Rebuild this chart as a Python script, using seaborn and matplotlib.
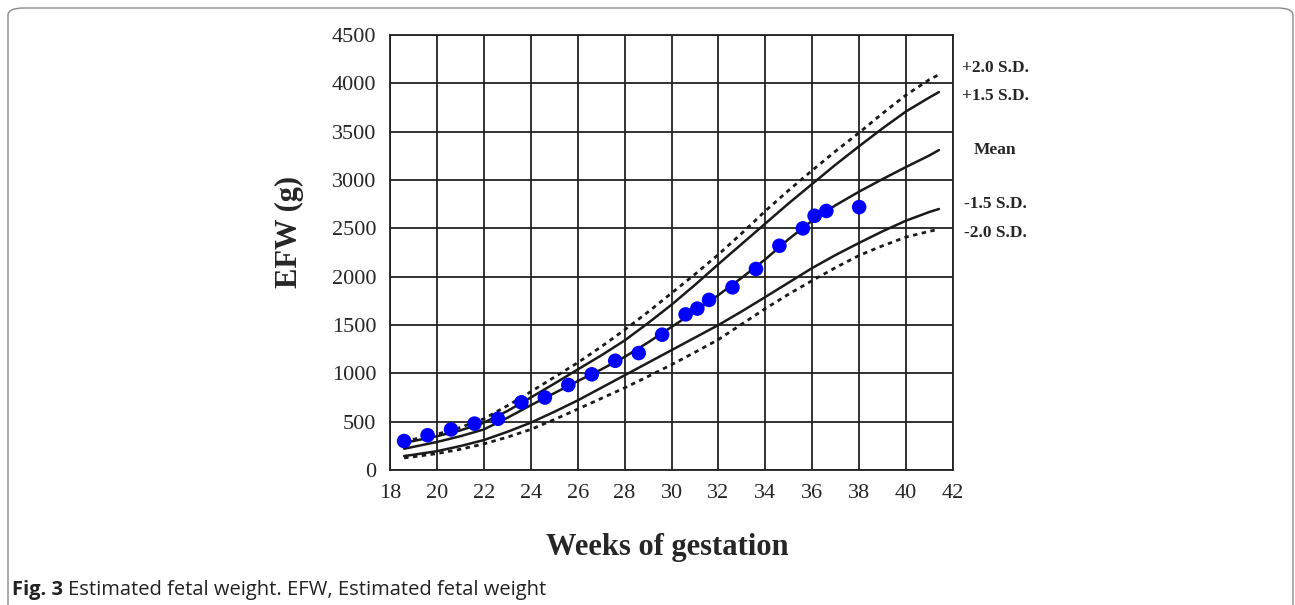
import matplotlib
matplotlib.use("Agg")
import matplotlib.pyplot as plt
import seaborn as sns
import pandas as pd
from matplotlib.patches import FancyBboxPatch

# Reference curves
weeks = [18.6, 19, 20, 21, 22, 23, 24, 25, 26, 27, 28, 29, 30,
         31, 32, 33, 34, 35, 36, 37, 38, 39, 40, 41, 41.4]
plus2_sd = [300, 318, 370, 440, 530, 665, 810, 960, 1110, 1275, 1450, 1635, 1830,
            2025, 2230, 2450, 2680, 2895, 3100, 3300, 3490, 3690, 3880, 4040, 4090]
plus15_sd = [285, 300, 350, 410, 490, 610, 750, 893, 1040, 1185, 1340, 1520, 1710,
             1915, 2130, 2340, 2550, 2760, 2960, 3160, 3350, 3535, 3710, 3855, 3910]
mean_efw = [220, 240, 290, 350, 420, 540, 670, 795, 920, 1040, 1170, 1320, 1480,
            1640, 1810, 1990, 2180, 2390, 2580, 2740, 2880, 3010, 3135, 3255, 3310]
minus15_sd = [145, 158, 195, 248, 310, 395, 490, 602, 720, 850, 980, 1110, 1240,
              1370, 1500, 1642, 1790, 1940, 2090, 2225, 2350, 2470, 2580, 2670, 2700]
minus2_sd = [125, 137, 170, 215, 270, 340, 420, 522, 630, 740, 850, 968, 1090,
             1218, 1350, 1510, 1670, 1820, 1960, 2095, 2220, 2320, 2410, 2470, 2490]

# Observed EFW points
obs_weeks = [18.6, 19.6, 20.6, 21.6, 22.6, 23.6, 24.6, 25.6, 26.6, 27.6, 28.6,
             29.6, 30.6, 31.1, 31.6, 32.6, 33.6, 34.6, 35.6, 36.1, 36.6, 38.0]
obs_efw = [300, 360, 420, 480, 530, 700, 750, 880, 990, 1130, 1210,
           1400, 1610, 1670, 1760, 1890, 2080, 2320, 2500, 2630, 2680, 2720]

curve_labels = ["+2.0 S.D.", "+1.5 S.D.", "Mean", "-1.5 S.D.", "-2.0 S.D."]
label_y = [4160, 3870, 3310, 2750, 2450]

sns.set_style("white")
plt.rcParams["font.family"] = ["Liberation Serif", "DejaVu Serif"]

fig = plt.figure(figsize=(12.95, 6.05), dpi=100)
ax = fig.add_axes([0.3012, 0.2231, 0.4347, 0.7190])

curves = pd.DataFrame({
    "week": weeks * 5,
    "efw": plus2_sd + plus15_sd + mean_efw + minus15_sd + minus2_sd,
    "curve": sum([[c] * len(weeks) for c in curve_labels], []),
})
for name, style in zip(curve_labels, ["dot", "solid", "solid", "solid", "dot"]):
    sub = curves[curves["curve"] == name]
    sns.lineplot(data=sub, x="week", y="efw", ax=ax, color="#1a1a1a",
                 linewidth=2.0 if style == "dot" else 1.8,
                 linestyle=(0, (1.6, 1.6)) if style == "dot" else "-",
                 zorder=3)

sns.scatterplot(x=obs_weeks, y=obs_efw, ax=ax, color="#0000ff", s=110,
                edgecolor="none", zorder=4)

ax.set_xlim(18, 42)
ax.set_ylim(0, 4500)
ax.set_xticks(range(18, 43, 2))
ax.set_yticks(range(0, 4501, 500))
ax.grid(True, color="#222222", linewidth=1.3)
ax.set_axisbelow(True)
for sp in ax.spines.values():
    sp.set_color("#222222")
    sp.set_linewidth(1.3)
ax.tick_params(direction="out", length=6, width=1.2, color="#222222",
               labelsize=16, pad=4)
ax.set_xlabel("")
ax.set_ylabel("")
fig.text(667 / 1295, 1 - 547 / 605, "Weeks of gestation", fontsize=22,
         fontweight="bold", ha="center", va="center")
fig.text(289 / 1295, 1 - 232 / 605, "EFW (g)", fontsize=22, fontweight="bold",
         ha="center", va="center", rotation=90)

for lab, yv in zip(curve_labels, label_y):
    ax.text(43.8, yv, lab, ha="center", va="center", fontsize=12.5,
            fontweight="bold", clip_on=False)

# caption and frame
border = FancyBboxPatch((8 / 1295, -0.02), 1285 / 1295, 1.0 - 8 / 605 + 0.02,
                        boxstyle="round,pad=0,rounding_size=0.012",
                        transform=fig.transFigure, fill=False,
                        edgecolor="#8a8a8a", linewidth=1.0)
fig.patches.append(border)

cap_y = 1 - 595 / 605
t1 = fig.text(12 / 1295, cap_y, "Fig. 3", fontsize=14.5, fontweight="bold",
              family="Open Sans", color="#222222", va="baseline")
fig.canvas.draw()
bb = t1.get_window_extent()
fig.text((bb.x1 + 5) / 1295, cap_y, "Estimated fetal weight. EFW, Estimated fetal weight",
         fontsize=14.5, family="Open Sans", color="#222222", va="baseline")

fig.savefig("out.png", dpi=100)
